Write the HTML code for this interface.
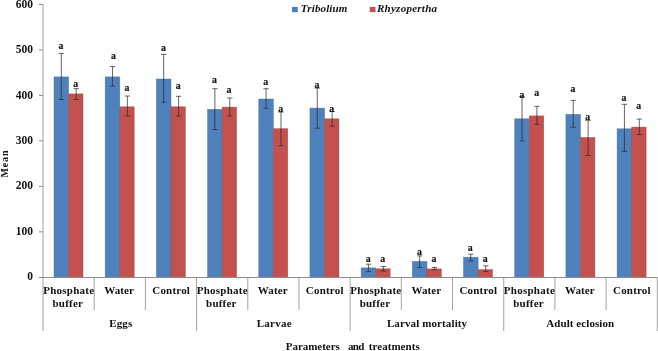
<!DOCTYPE html>
<html lang="en">
<head>
<meta charset="utf-8">
<title>Mean of parameters and treatments</title>
<style>
html,body{margin:0;padding:0;background:#fff;}
body{width:658px;height:351px;overflow:hidden;font-family:"Liberation Serif",serif;}
svg{display:block;will-change:transform;}
</style>
</head>
<body>
<svg width="658" height="351" viewBox="0 0 658 351">
<rect width="658" height="351" fill="#fff"/>
<rect x="54.00" y="76.90" width="14.60" height="200.60" fill="#4f81bd" stroke="#3f6aa6" stroke-width="0.6" stroke-opacity="0.7"/>
<rect x="68.60" y="93.90" width="14.40" height="183.60" fill="#c3514e" stroke="#a2423f" stroke-width="0.6" stroke-opacity="0.7"/>
<rect x="105.19" y="76.90" width="14.60" height="200.60" fill="#4f81bd" stroke="#3f6aa6" stroke-width="0.6" stroke-opacity="0.7"/>
<rect x="119.79" y="106.80" width="14.40" height="170.70" fill="#c3514e" stroke="#a2423f" stroke-width="0.6" stroke-opacity="0.7"/>
<rect x="156.38" y="79.00" width="14.60" height="198.50" fill="#4f81bd" stroke="#3f6aa6" stroke-width="0.6" stroke-opacity="0.7"/>
<rect x="170.98" y="106.80" width="14.40" height="170.70" fill="#c3514e" stroke="#a2423f" stroke-width="0.6" stroke-opacity="0.7"/>
<rect x="207.57" y="109.30" width="14.60" height="168.20" fill="#4f81bd" stroke="#3f6aa6" stroke-width="0.6" stroke-opacity="0.7"/>
<rect x="222.17" y="107.10" width="14.40" height="170.40" fill="#c3514e" stroke="#a2423f" stroke-width="0.6" stroke-opacity="0.7"/>
<rect x="258.77" y="99.00" width="14.60" height="178.50" fill="#4f81bd" stroke="#3f6aa6" stroke-width="0.6" stroke-opacity="0.7"/>
<rect x="273.37" y="128.70" width="14.40" height="148.80" fill="#c3514e" stroke="#a2423f" stroke-width="0.6" stroke-opacity="0.7"/>
<rect x="309.96" y="108.10" width="14.60" height="169.40" fill="#4f81bd" stroke="#3f6aa6" stroke-width="0.6" stroke-opacity="0.7"/>
<rect x="324.56" y="118.80" width="14.40" height="158.70" fill="#c3514e" stroke="#a2423f" stroke-width="0.6" stroke-opacity="0.7"/>
<rect x="361.15" y="267.90" width="14.60" height="9.60" fill="#4f81bd" stroke="#3f6aa6" stroke-width="0.6" stroke-opacity="0.7"/>
<rect x="375.75" y="268.80" width="14.40" height="8.70" fill="#c3514e" stroke="#a2423f" stroke-width="0.6" stroke-opacity="0.7"/>
<rect x="412.34" y="261.40" width="14.60" height="16.10" fill="#4f81bd" stroke="#3f6aa6" stroke-width="0.6" stroke-opacity="0.7"/>
<rect x="426.94" y="268.90" width="14.40" height="8.60" fill="#c3514e" stroke="#a2423f" stroke-width="0.6" stroke-opacity="0.7"/>
<rect x="463.53" y="257.20" width="14.60" height="20.30" fill="#4f81bd" stroke="#3f6aa6" stroke-width="0.6" stroke-opacity="0.7"/>
<rect x="478.13" y="269.60" width="14.40" height="7.90" fill="#c3514e" stroke="#a2423f" stroke-width="0.6" stroke-opacity="0.7"/>
<rect x="514.72" y="118.80" width="14.60" height="158.70" fill="#4f81bd" stroke="#3f6aa6" stroke-width="0.6" stroke-opacity="0.7"/>
<rect x="529.32" y="115.90" width="14.40" height="161.60" fill="#c3514e" stroke="#a2423f" stroke-width="0.6" stroke-opacity="0.7"/>
<rect x="565.92" y="114.40" width="14.60" height="163.10" fill="#4f81bd" stroke="#3f6aa6" stroke-width="0.6" stroke-opacity="0.7"/>
<rect x="580.52" y="137.50" width="14.40" height="140.00" fill="#c3514e" stroke="#a2423f" stroke-width="0.6" stroke-opacity="0.7"/>
<rect x="617.11" y="128.80" width="14.60" height="148.70" fill="#4f81bd" stroke="#3f6aa6" stroke-width="0.6" stroke-opacity="0.7"/>
<rect x="631.71" y="127.10" width="14.40" height="150.40" fill="#c3514e" stroke="#a2423f" stroke-width="0.6" stroke-opacity="0.7"/>
<g stroke="#8c8c8c" stroke-width="1" fill="none">
<line x1="43.0" y1="4" x2="43.0" y2="331" stroke-width="0.8"/>
<line x1="39" y1="277.5" x2="657.8" y2="277.5"/>
<line x1="39" y1="231.83" x2="43.0" y2="231.83"/>
<line x1="39" y1="186.36" x2="43.0" y2="186.36"/>
<line x1="39" y1="140.89" x2="43.0" y2="140.89"/>
<line x1="39" y1="95.42" x2="43.0" y2="95.42"/>
<line x1="39" y1="49.95" x2="43.0" y2="49.95"/>
<line x1="39" y1="4.48" x2="43.0" y2="4.48"/>
<line x1="94.19" y1="277.5" x2="94.19" y2="310" stroke-width="0.8"/>
<line x1="145.38" y1="277.5" x2="145.38" y2="310" stroke-width="0.8"/>
<line x1="196.57" y1="277.5" x2="196.57" y2="331" stroke-width="0.8"/>
<line x1="247.77" y1="277.5" x2="247.77" y2="310" stroke-width="0.8"/>
<line x1="298.96" y1="277.5" x2="298.96" y2="310" stroke-width="0.8"/>
<line x1="350.15" y1="277.5" x2="350.15" y2="331" stroke-width="0.8"/>
<line x1="401.34" y1="277.5" x2="401.34" y2="310" stroke-width="0.8"/>
<line x1="452.53" y1="277.5" x2="452.53" y2="310" stroke-width="0.8"/>
<line x1="503.72" y1="277.5" x2="503.72" y2="331" stroke-width="0.8"/>
<line x1="554.92" y1="277.5" x2="554.92" y2="310" stroke-width="0.8"/>
<line x1="606.11" y1="277.5" x2="606.11" y2="310" stroke-width="0.8"/>
<line x1="657.30" y1="277.5" x2="657.30" y2="331" stroke-width="0.8"/>
</g>
<g stroke="#2a2a2a" stroke-width="0.72" fill="none">
<path d="M61.30 53.40V99.50M58.65 53.40H63.95M58.65 99.50H63.95"/>
<path d="M76.20 88.60V99.50M73.55 88.60H78.85M73.55 99.50H78.85"/>
<path d="M112.49 66.60V86.10M109.84 66.60H115.14M109.84 86.10H115.14"/>
<path d="M127.39 96.00V116.00M124.74 96.00H130.04M124.74 116.00H130.04"/>
<path d="M163.68 54.40V102.20M161.03 54.40H166.33M161.03 102.20H166.33"/>
<path d="M178.58 96.30V116.00M175.93 96.30H181.23M175.93 116.00H181.23"/>
<path d="M214.88 88.70V129.50M212.22 88.70H217.53M212.22 129.50H217.53"/>
<path d="M229.77 98.00V115.90M227.12 98.00H232.42M227.12 115.90H232.42"/>
<path d="M266.07 88.70V108.30M263.42 88.70H268.72M263.42 108.30H268.72"/>
<path d="M280.97 112.00V145.70M278.32 112.00H283.62M278.32 145.70H283.62"/>
<path d="M317.26 88.10V128.20M314.61 88.10H319.91M314.61 128.20H319.91"/>
<path d="M332.16 111.50V126.20M329.51 111.50H334.81M329.51 126.20H334.81"/>
<path d="M368.45 264.20V271.60M365.80 264.20H371.10M365.80 271.60H371.10"/>
<path d="M383.35 266.50V271.10M380.70 266.50H386.00M380.70 271.10H386.00"/>
<path d="M419.64 255.90V267.60M416.99 255.90H422.29M416.99 267.60H422.29"/>
<path d="M434.54 267.40V269.80M431.89 267.40H437.19M431.89 269.80H437.19"/>
<path d="M470.83 254.20V260.90M468.18 254.20H473.48M468.18 260.90H473.48"/>
<path d="M485.73 265.90V271.50M483.08 265.90H488.38M483.08 271.50H488.38"/>
<path d="M522.02 96.80V141.00M519.38 96.80H524.67M519.38 141.00H524.67"/>
<path d="M536.92 106.30V124.40M534.27 106.30H539.57M534.27 124.40H539.57"/>
<path d="M573.22 100.40V127.20M570.57 100.40H575.87M570.57 127.20H575.87"/>
<path d="M588.12 120.30V155.50M585.47 120.30H590.77M585.47 155.50H590.77"/>
<path d="M624.41 104.30V151.40M621.76 104.30H627.06M621.76 151.40H627.06"/>
<path d="M639.31 119.10V134.50M636.66 119.10H641.96M636.66 134.50H641.96"/>
</g>
<g font-family="'Liberation Serif', serif" font-weight="bold" font-size="11px" fill="#111">
<text x="33.1" y="280.40" text-anchor="end" font-size="11.5px">0</text>
<text x="33.1" y="234.93" text-anchor="end" font-size="11.5px">100</text>
<text x="33.1" y="189.46" text-anchor="end" font-size="11.5px">200</text>
<text x="33.1" y="143.99" text-anchor="end" font-size="11.5px">300</text>
<text x="33.1" y="98.52" text-anchor="end" font-size="11.5px">400</text>
<text x="33.1" y="53.05" text-anchor="end" font-size="11.5px">500</text>
<text x="33.1" y="7.58" text-anchor="end" font-size="11.5px">600</text>
<g font-size="10.7px" stroke="#111" stroke-width="0.2">
<text x="58.60" y="48.7" textLength="4.9" lengthAdjust="spacingAndGlyphs">a</text>
<text x="73.20" y="86.9" textLength="4.9" lengthAdjust="spacingAndGlyphs">a</text>
<text x="110.90" y="58.7" textLength="4.9" lengthAdjust="spacingAndGlyphs">a</text>
<text x="124.50" y="91.4" textLength="4.9" lengthAdjust="spacingAndGlyphs">a</text>
<text x="160.90" y="51.4" textLength="4.9" lengthAdjust="spacingAndGlyphs">a</text>
<text x="175.70" y="88.8" textLength="4.9" lengthAdjust="spacingAndGlyphs">a</text>
<text x="211.90" y="82.8" textLength="4.9" lengthAdjust="spacingAndGlyphs">a</text>
<text x="226.60" y="92.8" textLength="4.9" lengthAdjust="spacingAndGlyphs">a</text>
<text x="263.30" y="85.0" textLength="4.9" lengthAdjust="spacingAndGlyphs">a</text>
<text x="278.20" y="111.9" textLength="4.9" lengthAdjust="spacingAndGlyphs">a</text>
<text x="314.40" y="88.3" textLength="4.9" lengthAdjust="spacingAndGlyphs">a</text>
<text x="329.30" y="111.8" textLength="4.9" lengthAdjust="spacingAndGlyphs">a</text>
<text x="365.70" y="261.8" textLength="4.9" lengthAdjust="spacingAndGlyphs">a</text>
<text x="380.30" y="262.3" textLength="4.9" lengthAdjust="spacingAndGlyphs">a</text>
<text x="417.10" y="255.4" textLength="4.9" lengthAdjust="spacingAndGlyphs">a</text>
<text x="431.60" y="262.3" textLength="4.9" lengthAdjust="spacingAndGlyphs">a</text>
<text x="467.80" y="250.9" textLength="4.9" lengthAdjust="spacingAndGlyphs">a</text>
<text x="482.80" y="262.3" textLength="4.9" lengthAdjust="spacingAndGlyphs">a</text>
<text x="519.40" y="97.6" textLength="4.9" lengthAdjust="spacingAndGlyphs">a</text>
<text x="534.30" y="96.2" textLength="4.9" lengthAdjust="spacingAndGlyphs">a</text>
<text x="570.40" y="92.2" textLength="4.9" lengthAdjust="spacingAndGlyphs">a</text>
<text x="585.30" y="120.1" textLength="4.9" lengthAdjust="spacingAndGlyphs">a</text>
<text x="621.40" y="100.6" textLength="4.9" lengthAdjust="spacingAndGlyphs">a</text>
<text x="636.20" y="108.7" textLength="4.9" lengthAdjust="spacingAndGlyphs">a</text>
</g>
<text x="43.15" y="294" textLength="50.9" lengthAdjust="spacing">Phosphate</text>
<text x="52.50" y="306.7" textLength="30.4" lengthAdjust="spacing">buffer</text>
<text x="104.29" y="294" textLength="29.7" lengthAdjust="spacing">Water</text>
<text x="152.28" y="294" textLength="37.6" lengthAdjust="spacing">Control</text>
<text x="196.72" y="294" textLength="50.9" lengthAdjust="spacing">Phosphate</text>
<text x="206.07" y="306.7" textLength="30.4" lengthAdjust="spacing">buffer</text>
<text x="257.86" y="294" textLength="29.7" lengthAdjust="spacing">Water</text>
<text x="305.85" y="294" textLength="37.6" lengthAdjust="spacing">Control</text>
<text x="350.30" y="294" textLength="50.9" lengthAdjust="spacing">Phosphate</text>
<text x="359.65" y="306.7" textLength="30.4" lengthAdjust="spacing">buffer</text>
<text x="411.44" y="294" textLength="29.7" lengthAdjust="spacing">Water</text>
<text x="459.43" y="294" textLength="37.6" lengthAdjust="spacing">Control</text>
<text x="503.87" y="294" textLength="50.9" lengthAdjust="spacing">Phosphate</text>
<text x="513.22" y="306.7" textLength="30.4" lengthAdjust="spacing">buffer</text>
<text x="565.01" y="294" textLength="29.7" lengthAdjust="spacing">Water</text>
<text x="613.00" y="294" textLength="37.6" lengthAdjust="spacing">Control</text>
<text x="109.20" y="326.8" textLength="23.0" lengthAdjust="spacing">Eggs</text>
<text x="256.75" y="326.8" textLength="34.9" lengthAdjust="spacing">Larvae</text>
<text x="386.90" y="326.8" textLength="80.2" lengthAdjust="spacing">Larval mortality</text>
<text x="546.30" y="326.8" textLength="67.8" lengthAdjust="spacing">Adult eclosion</text>
<text x="285.8" y="349.9" textLength="54.0" lengthAdjust="spacing">Parameters</text>
<text x="348.1" y="349.9" textLength="16.2" lengthAdjust="spacing">and</text>
<text x="368.8" y="349.9" textLength="50.9" lengthAdjust="spacing">treatments</text>
<text transform="translate(8.3 177.5) rotate(-90)" font-size="10px" textLength="27.0" lengthAdjust="spacing">Mean</text>
<rect x="292" y="6.9" width="5.8" height="5.3" fill="#4f81bd"/>
<rect x="369.7" y="6.9" width="5.8" height="5.3" fill="#c3514e"/>
<text x="300.8" y="12.2" font-style="italic" textLength="46.6" lengthAdjust="spacing">Tribolium</text>
<text x="377.0" y="12.2" font-style="italic" textLength="60.0" lengthAdjust="spacing">Rhyzopertha</text>
</g>
</svg>
</body>
</html>
